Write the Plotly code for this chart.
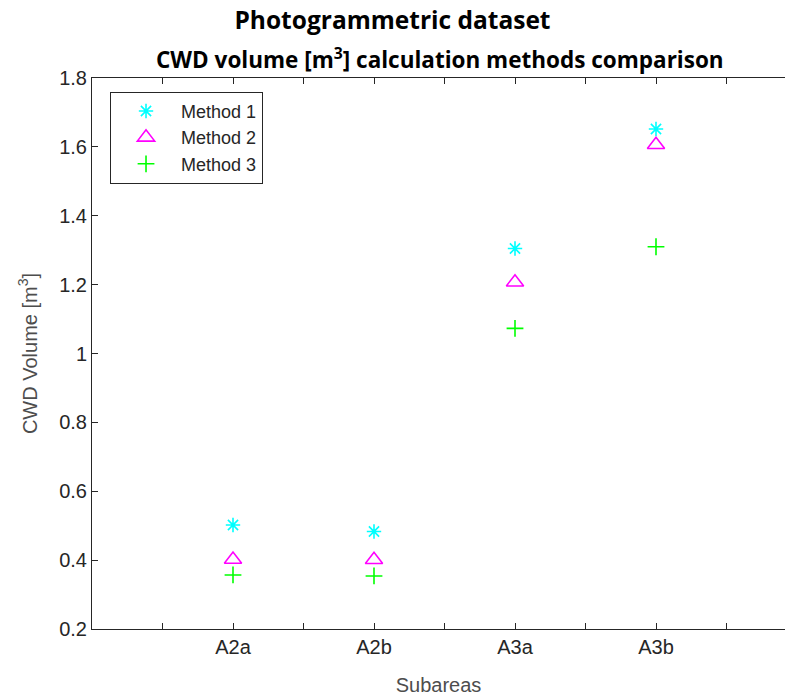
import plotly.graph_objects as go

subareas = ["A2a", "A2b", "A3a", "A3b"]
method1 = [0.502, 0.483, 1.305, 1.652]
method2 = [0.402, 0.401, 1.207, 1.606]
method3 = [0.357, 0.354, 1.073, 1.310]

x_pos = [1, 2, 3, 4]
tick_vals = [0.5, 1, 1.5, 2, 2.5, 3, 3.5, 4, 4.5]
tick_text = ["", subareas[0], "", subareas[1], "", subareas[2], "", subareas[3], ""]

fig = go.Figure()
fig.add_trace(go.Scatter(x=x_pos, y=method1, mode="markers", name="Method 1",
                         marker=dict(symbol="asterisk-open", size=12, color="#00FFFF",
                                     line=dict(color="#00FFFF", width=1.6))))
fig.add_trace(go.Scatter(x=x_pos, y=method2, mode="markers", name="Method 2",
                         marker=dict(symbol="triangle-up-open", size=15, color="#FF00FF",
                                     line=dict(color="#FF00FF", width=1.6))))
fig.add_trace(go.Scatter(x=x_pos, y=method3, mode="markers", name="Method 3",
                         marker=dict(symbol="cross-thin-open", size=12, color="#00FF00",
                                     line=dict(color="#00FF00", width=1.6))))

axis_font = dict(family="Liberation Sans, Arial, sans-serif", size=20, color="#262626")

fig.update_layout(
    width=785, height=700,
    margin=dict(l=92, r=0, t=78, b=71),
    plot_bgcolor="white", paper_bgcolor="white",
    showlegend=True,
    title=dict(text="<b>Photogrammetric dataset</b>", x=0.5, xref="container",
               xanchor="center", y=680/700, yref="container", yanchor="middle",
               font=dict(family="Open Sans, sans-serif", size=24.5, color="#000000")),
    legend=dict(x=0.026, y=0.975, xanchor="left", yanchor="top",
                bgcolor="white", bordercolor="#262626", borderwidth=1,
                font=dict(family="Liberation Sans, Arial, sans-serif", size=18, color="#262626"),
                itemwidth=60, tracegroupgap=0),
    xaxis=dict(range=[0, 693/141], tickmode="array", tickvals=tick_vals, ticktext=tick_text,
               ticks="inside", ticklen=6, tickcolor="#262626", tickwidth=1,
               showline=True, linecolor="#262626", linewidth=1, mirror="ticks",
               showgrid=False, zeroline=False, tickfont=axis_font,
               title=dict(text="Subareas", standoff=20,
                          font=dict(family="Liberation Sans, Arial, sans-serif", size=20, color="#4d4d4d"))),
    yaxis=dict(range=[0.2, 1.8], tickmode="linear", tick0=0.2, dtick=0.2,
               ticks="inside", ticklen=6, tickcolor="#262626", tickwidth=1,
               showline=True, linecolor="#262626", linewidth=1, mirror=False,
               showgrid=False, zeroline=False, tickfont=axis_font,
               title=dict(text="CWD Volume [m<sup>3</sup>]", standoff=16,
                          font=dict(family="Liberation Sans, Arial, sans-serif", size=20, color="#4d4d4d"))),
    annotations=[dict(text="<b>CWD volume [m<sup>3</sup>] calculation methods comparison</b>",
                      xref="paper", yref="paper", x=(440-92)/693, y=1 + (78-59)/551,
                      xanchor="center", yanchor="middle", showarrow=False,
                      font=dict(family="Open Sans, sans-serif", size=22.5, color="#000000"))],
)

fig.write_html("out.html")
